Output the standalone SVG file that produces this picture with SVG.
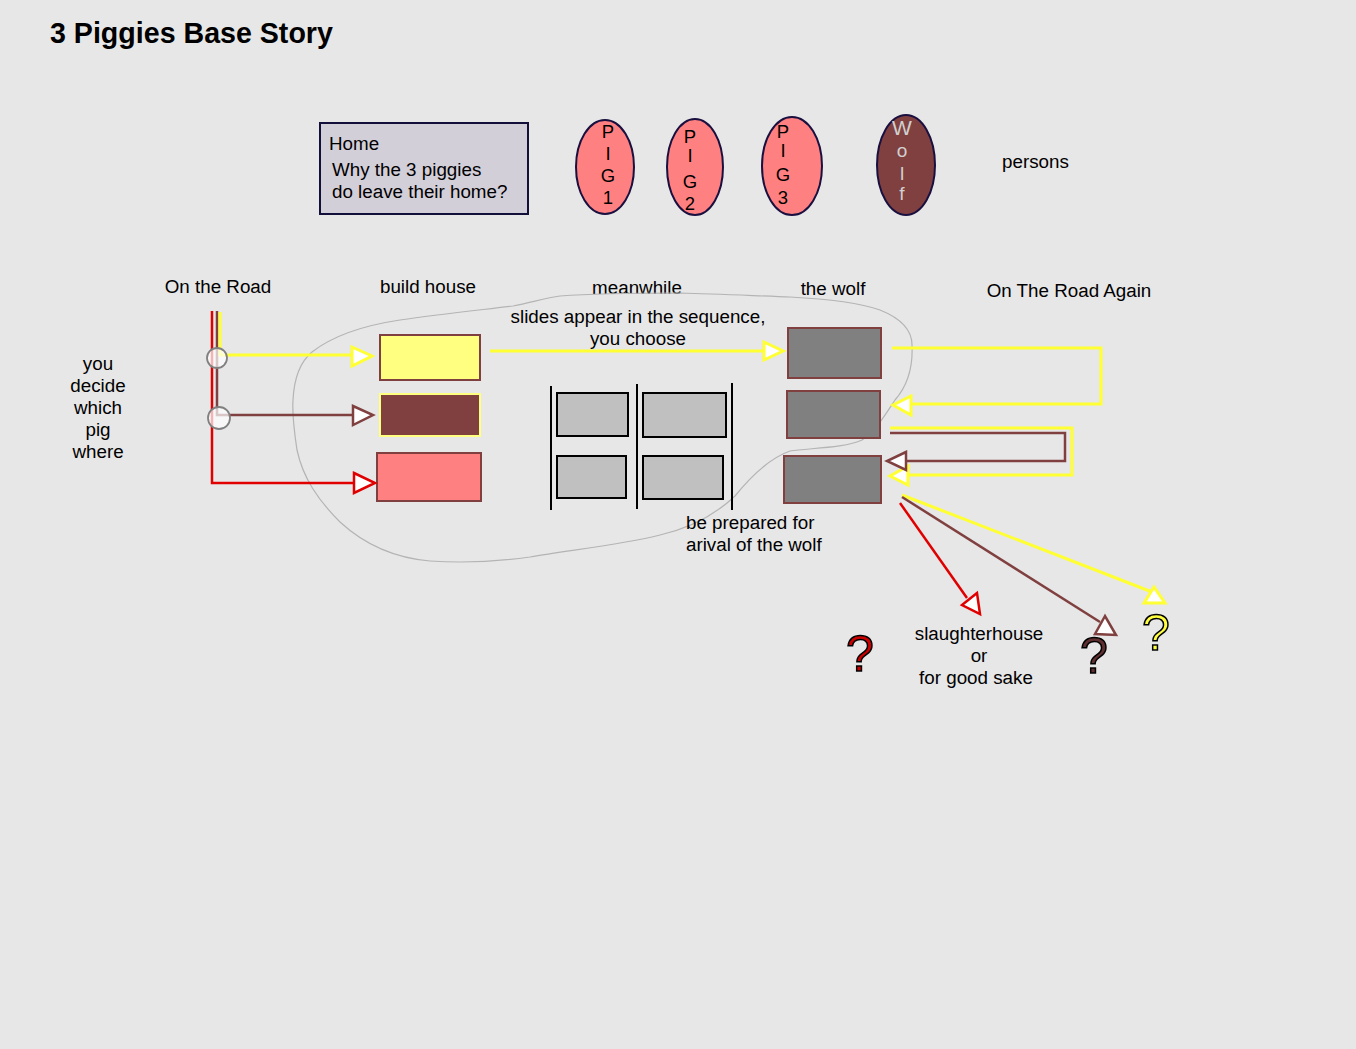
<svg xmlns="http://www.w3.org/2000/svg" width="1356" height="1049" viewBox="0 0 1356 1049">
<style>
text{font-family:"Liberation Sans",Arial,sans-serif;font-size:18.8px;fill:#000}
.title{font-size:28.6px;font-weight:bold}
.mid{text-anchor:middle}
.pig{fill:#ff8080;stroke:#1a1040;stroke-width:2}
.lt{text-anchor:middle;font-size:18.5px}
.wl{text-anchor:middle;font-size:19px;fill:#d0d0d0}
.wolfrect{fill:#808080;stroke:#804040;stroke-width:2}
.film{fill:#c0c0c0;stroke:#000;stroke-width:2}
.y{stroke:#ffff33;stroke-width:3;fill:none}
.b{stroke:#804040;stroke-width:2.5;fill:none}
.r{stroke:#e00000;stroke-width:2.5;fill:none}
.ya{fill:#fff;stroke:#ffff33;stroke-width:3;stroke-linejoin:miter}
.ba{fill:#fff;stroke:#804040;stroke-width:2.5}
.ra{fill:#fff;stroke:#e00000;stroke-width:2.5}
.q{font-size:50px;stroke:#000;stroke-width:1.5;text-anchor:middle}
</style>
<rect width="1356" height="1049" fill="#e7e7e7"/>
<text class="title" x="50" y="43">3 Piggies Base Story</text>

<g id="home">
<rect x="320" y="123" width="208" height="91" fill="#d3cfd9" stroke="#12103a" stroke-width="2"/>
<text x="329" y="150">Home</text>
<text x="332" y="176">Why the 3 piggies</text>
<text x="332" y="198">do leave their home?</text>
</g>

<g id="pig1">
<ellipse class="pig" cx="605" cy="167" rx="29" ry="47"/>
<text class="lt" x="608" y="138">P</text><text class="lt" x="608" y="160">I</text><text class="lt" x="608" y="182">G</text><text class="lt" x="608" y="204">1</text>
</g>
<g id="pig2">
<ellipse class="pig" cx="695" cy="167" rx="28" ry="48"/>
<text class="lt" x="690" y="143">P</text><text class="lt" x="690" y="162">I</text><text class="lt" x="690" y="188">G</text><text class="lt" x="690" y="210">2</text>
</g>
<g id="pig3">
<ellipse class="pig" cx="792" cy="166" rx="30" ry="49"/>
<text class="lt" x="783" y="138">P</text><text class="lt" x="783" y="157">I</text><text class="lt" x="783" y="181">G</text><text class="lt" x="783" y="204">3</text>
</g>
<g id="wolf">
<ellipse cx="906" cy="165" rx="29" ry="50" fill="#804040" stroke="#1a1040" stroke-width="2"/>
<text class="wl" x="902" y="135" style="font-size:21px">W</text><text class="wl" x="902" y="157">o</text><text class="wl" x="902" y="180">l</text><text class="wl" x="902" y="200">f</text>
</g>
<text x="1002" y="168">persons</text>

<text class="mid" x="218" y="293">On the Road</text>
<text class="mid" x="428" y="293">build house</text>
<text class="mid" x="637" y="294">meanwhile</text>
<text class="mid" x="833" y="295">the wolf</text>
<text class="mid" x="1069" y="297">On The Road Again</text>

<g id="decide">
<text class="mid" x="98" y="370">you</text>
<text class="mid" x="98" y="392">decide</text>
<text class="mid" x="98" y="414">which</text>
<text class="mid" x="98" y="436">pig</text>
<text class="mid" x="98" y="458">where</text>
</g>

<path id="cloud" d="M293,400 C294,380 300,362 312,352 C330,338 360,326 400,320 C440,314 480,310 513,306 C530,303 545,298 560,296 C600,293 640,293 680,293 C720,294 760,296 790,297 C830,299 860,303 880,310 C900,318 912,330 912,345 C913,365 908,385 895,400 C885,415 875,432 862,440 C845,448 810,448 790,451 C770,458 752,475 735,496 C715,515 690,528 660,535 C620,545 570,550 530,557 C495,562 460,563 430,561 C395,558 365,545 340,522 C318,500 303,478 297,450 C294,430 292,415 293,400 Z" fill="none" stroke="#b4b4b4" stroke-width="1.2"/>

<g id="house-yellow"><rect x="380" y="335" width="100" height="45" fill="#ffff80" stroke="#804040" stroke-width="2"/></g>
<g id="house-brown"><rect x="380" y="394" width="100" height="42" fill="#804040" stroke="#ffff80" stroke-width="2"/></g>
<g id="house-pink"><rect x="377" y="453" width="104" height="48" fill="#ff8080" stroke="#804040" stroke-width="2"/></g>

<text class="mid" x="638" y="323">slides appear in the sequence,</text>
<text class="mid" x="638" y="345">you choose</text>

<g id="film">
<line x1="551" y1="386" x2="551" y2="510" stroke="#000" stroke-width="2"/>
<line x1="637" y1="384" x2="637" y2="509" stroke="#000" stroke-width="2"/>
<line x1="732" y1="383" x2="732" y2="510" stroke="#000" stroke-width="2"/>
<rect class="film" x="557" y="393" width="71" height="43"/>
<rect class="film" x="643" y="393" width="83" height="44"/>
<rect class="film" x="557" y="456" width="69" height="42"/>
<rect class="film" x="643" y="456" width="80" height="43"/>
</g>
<text x="686" y="529">be prepared for</text>
<text x="686" y="551">arival of the wolf</text>

<g id="wolf1"><rect class="wolfrect" x="788" y="328" width="93" height="50"/></g>
<g id="wolf2"><rect class="wolfrect" x="787" y="391" width="93" height="47"/></g>
<g id="wolf3"><rect class="wolfrect" x="784" y="456" width="97" height="47"/></g>

<g id="ends">
<text class="q" x="860" y="671" style="fill:#cc0000">?</text>
<text class="q" x="1094" y="673" style="fill:#603030">?</text>
<text class="q" x="1156" y="650" style="fill:#ffff40">?</text>
<text class="mid" x="979" y="640">slaughterhouse</text>
<text class="mid" x="979" y="662">or</text>
<text class="mid" x="976" y="684">for good sake</text>
</g>

<g id="connectors">
<polyline class="r" points="212,311 212,483 355,483"/>
<polygon class="ra" points="354,473 375,483 354,493"/>
<polyline class="b" points="217,311 217,415 353,415"/>
<polygon class="ba" points="353,406 373,415 353,425"/>
<polyline class="y" points="220,312 220,355 352,355"/>
<polygon class="ya" points="352,347 372,356 352,366"/>
<circle cx="217" cy="358" r="10" fill="#fff" fill-opacity="0.7" stroke="#808080" stroke-width="1.8"/>
<circle cx="219" cy="418" r="11" fill="#fff" fill-opacity="0.7" stroke="#808080" stroke-width="1.8"/>
<line class="y" x1="490" y1="351" x2="764" y2="351"/>
<polygon class="ya" points="764,342 783,351 764,360"/>
<polyline class="y" points="892,348 1101,348 1101,404 911,404"/>
<polygon class="ya" points="911,396 893,405 911,415"/>
<polyline class="y" points="890,428 1072,428 1072,475 908,475"/>
<polygon class="ya" points="908,466 890,476 908,485"/>
<polyline class="b" points="890,433 1065,433 1065,461 906,461"/>
<polygon class="ba" points="906,452 887,461 906,470"/>
<line class="y" x1="902" y1="495" x2="1152" y2="592"/>
<polygon class="ya" points="1154,587 1144,603 1165,603"/>
<line class="b" x1="902" y1="497" x2="1100" y2="622"/>
<polygon class="ba" points="1105,616 1095,634 1116,635"/>
<line class="r" x1="900" y1="503" x2="967" y2="598"/>
<polygon class="ra" points="977,593 962,605 980,614"/>
</g>
</svg>
